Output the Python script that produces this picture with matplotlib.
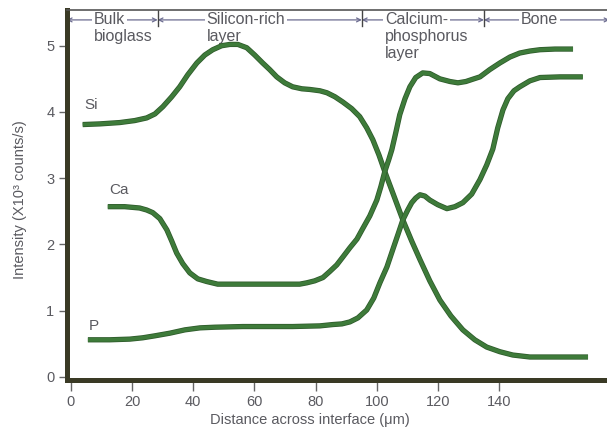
import matplotlib
matplotlib.use("Agg")
import matplotlib.pyplot as plt
import matplotlib.patheffects as pe

# --- data (x in um, y in 10^3 counts/s) ---
si_x = [3.9, 9.5, 16.0, 20.9, 24.8, 27.5, 30.1, 33.0, 35.6, 38.2, 41.2, 43.8, 46.4, 49.3,
        52.0, 54.6, 57.5, 60.1, 62.7, 65.0, 67.3, 69.9, 72.5, 75.5, 78.1, 81.4, 83.7, 86.3,
        88.9, 91.8, 94.4, 96.7, 98.7, 100.7, 102.6, 105.6, 108.5, 111.4, 114.1, 117.3,
        120.6, 124.2, 128.1, 132.0, 135.9, 140.2, 144.4, 150.0, 169.0]
si_y = [3.81, 3.82, 3.84, 3.87, 3.91, 3.97, 4.08, 4.23, 4.38, 4.56, 4.74, 4.86, 4.94, 5.00,
        5.02, 5.02, 4.97, 4.86, 4.74, 4.64, 4.53, 4.44, 4.38, 4.35, 4.34, 4.32, 4.29, 4.23,
        4.15, 4.05, 3.93, 3.76, 3.58, 3.35, 3.10, 2.73, 2.37, 2.05, 1.77, 1.45,
        1.16, 0.92, 0.71, 0.56, 0.45, 0.38, 0.33, 0.30, 0.30]

ca_x = [12.1, 17.6, 22.5, 24.8, 26.8, 29.1, 31.4, 33.0, 34.6, 36.6, 38.9, 41.5, 44.4, 48.0,
        52.0, 66.0, 74.8, 77.1, 79.7, 82.4, 84.6, 86.9, 88.9, 91.2, 93.5, 95.4, 97.7, 100.0,
        101.3, 102.6, 103.9, 104.9, 106.2, 107.5, 109.2, 110.8, 112.7, 115.0, 117.3, 120.6,
        123.9, 126.5, 129.1, 131.7, 133.7, 136.9, 140.2, 143.5, 146.7, 150.0, 153.3, 158.2,
        164.1]
ca_y = [2.57, 2.57, 2.55, 2.52, 2.48, 2.39, 2.22, 2.05, 1.87, 1.71, 1.57, 1.48, 1.44, 1.40,
        1.40, 1.40, 1.40, 1.42, 1.45, 1.50, 1.59, 1.69, 1.81, 1.95, 2.08, 2.24, 2.43, 2.67,
        2.87, 3.10, 3.28, 3.43, 3.69, 3.96, 4.20, 4.38, 4.52, 4.59, 4.58, 4.50,
        4.46, 4.44, 4.46, 4.50, 4.53, 4.64, 4.74, 4.83, 4.89, 4.92, 4.94, 4.95,
        4.95]

p_x = [5.6, 12.7, 19.3, 23.5, 27.5, 32.4, 37.3, 42.2, 47.1, 56.2, 72.5, 81.4, 85.6, 88.6,
       91.2, 93.8, 96.7, 99.0, 101.0, 103.3, 105.2, 106.9, 108.5, 110.1, 111.4, 112.7,
       114.1, 115.7, 117.3, 119.9, 122.9, 125.5, 128.1, 131.0, 133.7, 135.9, 137.9, 139.5,
       141.2, 142.8, 144.8, 146.7, 150.0, 153.3, 159.8, 167.3]
p_y = [0.56, 0.56, 0.57, 0.59, 0.62, 0.66, 0.71, 0.74, 0.75, 0.76, 0.76, 0.77, 0.79, 0.80,
       0.83, 0.89, 1.01, 1.19, 1.42, 1.66, 1.92, 2.15, 2.37, 2.52, 2.63, 2.70,
       2.75, 2.73, 2.67, 2.60, 2.54, 2.57, 2.63, 2.76, 2.98, 3.20, 3.44, 3.76,
       4.03, 4.20, 4.32, 4.38, 4.47, 4.52, 4.53, 4.53]

# region boundaries along the interface and their labels
bounds = [-1.3, 28.4, 95.1, 135.0, 176.0]
regions = [["Bulk", "bioglass"], ["Silicon-rich", "layer"],
           ["Calcium-", "phosphorus", "layer"], ["Bone"]]
region_x = [7.5, 44.4, 102.6, 147.0]

x_ticks = [0, 20, 40, 60, 80, 100, 120, 140]
y_ticks = [0, 1, 2, 3, 4, 5]

plt.rcParams['font.family'] = ['Liberation Sans', 'DejaVu Sans']
text_col = '#5a5a60'
line_col = '#3e7b3a'

fig = plt.figure(figsize=(6.07, 4.34), dpi=100)
ax = fig.add_axes([0.110, 0.124, 0.89, 0.853])
ax.set_xlim(-1.3, 175.2)
ax.set_ylim(-0.05, 5.54)

# curves
stroke = [pe.Stroke(linewidth=3.8, foreground='#2e5a2b'), pe.Normal()]
for xs, ys in [(si_x, si_y), (ca_x, ca_y), (p_x, p_y)]:
    ax.plot(xs, ys, color=line_col, lw=2.7, solid_capstyle='butt',
            solid_joinstyle='round', path_effects=stroke, zorder=3)

# element labels
ax.text(6.5, 4.1, "Si", ha='center', va='center', fontsize=11, color=text_col)
ax.text(15.7, 2.82, "Ca", ha='center', va='center', fontsize=11, color=text_col)
ax.text(7.5, 0.77, "P", ha='center', va='center', fontsize=11, color=text_col)

# header: arrows between boundaries, dividers, region names
y_arrow = 5.39
for i in range(len(regions)):
    ax.annotate("", xy=(bounds[i], y_arrow), xytext=(bounds[i + 1], y_arrow),
                arrowprops=dict(arrowstyle='<->', color='#6c6c90', lw=0.9,
                                shrinkA=0, shrinkB=0, mutation_scale=7),
                zorder=1, annotation_clip=False)
    lines = regions[i]
    for j, s in enumerate(lines):
        yy = y_arrow - j * 0.255
        kw = {}
        if j == 0:
            kw['bbox'] = dict(facecolor='white', edgecolor='none', pad=1.5)
        ax.text(region_x[i], yy, s, ha='left', va='center', fontsize=11.5,
                color=text_col, zorder=2, **kw)
for b in bounds[1:-1]:
    ax.plot([b, b], [5.54, 5.30], color='#444444', lw=1.0, zorder=2)

# axes styling
ax.spines['right'].set_visible(False)
ax.spines['left'].set_color('#3a3a25')
ax.spines['left'].set_linewidth(3.6)
ax.spines['bottom'].set_color('#3a3a25')
ax.spines['bottom'].set_linewidth(3.6)
ax.spines['top'].set_color('#555555')
ax.spines['top'].set_linewidth(1.2)

ax.set_xticks(x_ticks)
ax.set_yticks(y_ticks)
ax.tick_params(axis='x', direction='out', length=8, width=1, color='#666666',
               labelsize=10.5, labelcolor=text_col, pad=3)
ax.tick_params(axis='y', direction='out', length=6, width=1, color='#666666',
               labelsize=10.5, labelcolor=text_col, pad=3)

fig.text(0.511, 0.032, "Distance across interface (\u03bcm)", ha='center', va='center',
         fontsize=10.5, color=text_col)
fig.text(0.033, 0.54, "Intensity (X10\u00b3 counts/s)", ha='center', va='center',
         rotation=90, fontsize=10.5, color=text_col)

fig.savefig("out.png", dpi=100)
